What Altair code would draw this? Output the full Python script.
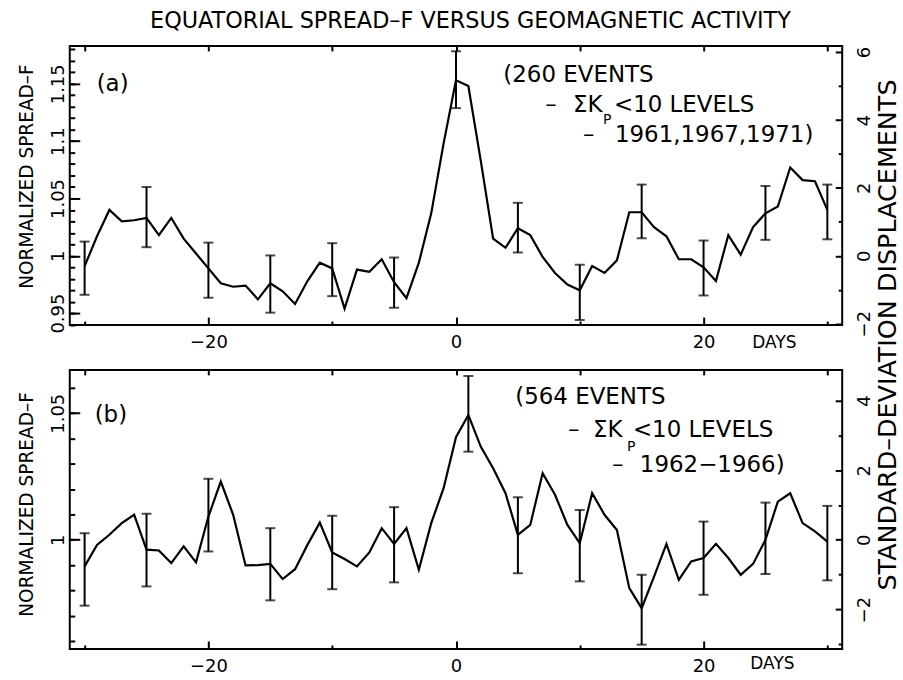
import altair as alt
import pandas as pd

FONT = "DejaVu Sans"

# ---------------- data ----------------
DAYS = list(range(-30, 31))

SPREAD_A = [0.991, 1.017, 1.040, 1.030, 1.031, 1.033, 1.018, 1.033, 1.015, 1.002,
            0.989, 0.976, 0.973, 0.974, 0.962, 0.976, 0.969, 0.958, 0.978, 0.994,
            0.989, 0.954, 0.988, 0.986, 0.997, 0.977, 0.963, 0.994, 1.037, 1.098,
            1.153, 1.148, 1.083, 1.015, 1.007, 1.024, 1.018, 0.999, 0.985, 0.975,
            0.970, 0.991, 0.985, 0.996, 1.038, 1.038, 1.025, 1.017, 0.997, 0.997,
            0.990, 0.978, 1.018, 1.001, 1.025, 1.037, 1.043, 1.077, 1.066, 1.065,
            1.040]

SPREAD_B = [0.9895, 0.998, 1.002, 1.0066, 1.0099, 0.9961, 0.9958, 0.9908, 0.9974, 0.9911,
            1.0092, 1.023, 1.0099, 0.9899, 0.990, 0.9905, 0.9845, 0.9884, 0.998, 1.0068,
            0.995, 0.9924, 0.9895, 0.995, 1.0046, 0.9984, 1.0046, 0.9882, 1.0066, 1.0204,
            1.0405, 1.0493, 1.0368, 1.0283, 1.0184, 1.002, 1.0059, 1.0263, 1.0178, 1.0059,
            0.9987, 1.0184, 1.0099, 1.0039, 0.9809, 0.973, 0.9855, 0.9984, 0.9842, 0.9915,
            0.9928, 0.9984, 0.9928, 0.9862, 0.9905, 1.0, 1.0151, 1.0184, 1.0066, 1.0033,
            0.9993]

ERR_DAYS_A = [-30, -25, -20, -15, -10, -5, 0, 5, 10, 15, 20, 25, 30]
ERR_LO_A = [0.966, 1.0075, 0.9634, 0.9504, 0.9648, 0.9547, 1.1288, 1.0029, 0.944, 1.0153, 0.9654, 1.0139, 1.0144]
ERR_HI_A = [1.0124, 1.060, 1.0115, 1.0003, 1.011, 0.9985, 1.1784, 1.0462, 0.9922, 1.0621, 1.0133, 1.0609, 1.0621]

ERR_DAYS_B = [-30, -25, -20, -15, -10, -5, 1, 5, 10, 15, 20, 25, 30]
ERR_LO_B = [0.974, 0.9816, 0.9954, 0.9761, 0.9805, 0.9832, 1.0348, 0.9868, 0.9836, 0.9586, 0.9783, 0.9865, 0.984]
ERR_HI_B = [1.0026, 1.0103, 1.0241, 1.0046, 1.0095, 1.0129, 1.0647, 1.0168, 1.0118, 0.9862, 1.0072, 1.0147, 1.0134]

X_DOMAIN = [-31.2, 31.2]
Y_DOMAIN_A = [0.9396, 1.183]
Y_DOMAIN_B = [0.9569, 1.0671]
SD_UNIT_A = 0.0296    # one standard deviation in normalized units, panel (a)
SD_UNIT_B = 0.01375   # panel (b)

X_MAJOR = [-20, 0, 20]
X_MINOR = [-30, -10, 10, 30]
X_TOP = [-30, -20, -10, 0, 10, 20, 30]
LEFT_MAJOR_A = [0.95, 1.0, 1.05, 1.1, 1.15]
LEFT_MINOR_A = [round(0.94 + 0.01 * i, 2) for i in range(25)]
LEFT_MAJOR_B = [1.0, 1.05]
LEFT_MINOR_B = [round(0.96 + 0.01 * i, 2) for i in range(11)]
RIGHT_MAJOR_A = [-2, 0, 2, 4, 6]
RIGHT_MINOR_A = [-1, 1, 3, 5]
RIGHT_MAJOR_B = [-2, 0, 2, 4]
RIGHT_MINOR_B = [-3, -1, 1, 3]

TITLE = "EQUATORIAL SPREAD–F VERSUS GEOMAGNETIC ACTIVITY"
LEFT_TITLE = "NORMALIZED SPREAD–F"
RIGHT_TITLE = "STANDARD–DEVIATION DISPLACEMENTS"
X_UNIT = "DAYS"

NOTES_A = [("(a)", 27, 38, 23), ("(260 EVENTS", 435, 29, 23),
           ("–", 477, 59, 23), ("ΣK", 505, 59, 23), ("P", 535, 74, 14), ("<10 LEVELS", 546, 59, 23),
           ("–", 515, 89, 23), ("1961,1967,1971)", 547, 89, 23)]
NOTES_B = [("(b)", 25, 45, 23), ("(564 EVENTS", 447, 27, 23),
           ("–", 500, 60, 23), ("ΣK", 525, 60, 23), ("P", 559, 77, 14), ("<10 LEVELS", 565, 60, 23),
           ("–", 544, 95, 23), ("1962−1966)", 572, 95, 23)]

W, H = 775, 280


def ax(**kw):
    base = dict(domain=False, grid=False, tickColor="black", tickWidth=2,
                labelFont=FONT, labelColor="black", labelFlush=False,
                labelOverlap=False, title=None)
    base.update(kw)
    return alt.Axis(**base)


def text_layer(txt, px, py, size, angle=0, align="left"):
    return alt.Chart(pd.DataFrame({"t": [txt]})).mark_text(
        font=FONT, fontSize=size, color="black", align=align, baseline="middle", angle=angle
    ).encode(x=alt.value(px), y=alt.value(py), text="t:N")


def panel(values, e_days, e_lo, e_hi, ydom, sd_unit, l_major, l_minor, r_major, r_minor,
          notes, left_title_y, days_xy, extra=()):
    df = pd.DataFrame({"day": DAYS, "val": values})
    df["sd"] = (df["val"] - 1.0) / sd_unit
    edf = pd.DataFrame({"day": e_days, "lo": e_lo, "hi": e_hi})
    xs = alt.Scale(domain=X_DOMAIN, nice=False, zero=False)
    ys = alt.Scale(domain=ydom, nice=False, zero=False)
    sds = alt.Scale(domain=[(ydom[0] - 1) / sd_unit, (ydom[1] - 1) / sd_unit], nice=False, zero=False)
    base = alt.Chart(df)

    line = base.mark_line(color="black", strokeWidth=2.2).encode(
        x=alt.X("day:Q", scale=xs, axis=ax(orient="bottom", values=X_MAJOR, tickSize=8, offset=-8,
                                          labelFontSize=18, labelPadding=9, format="d")),
        y=alt.Y("val:Q", scale=ys, axis=ax(orient="left", values=l_major, tickSize=10, offset=-10,
                                          labelFontSize=18, labelAngle=270, labelAlign="center",
                                          labelBaseline="alphabetic", labelPadding=6, format="~g")),
    )
    ghost_minor = base.mark_line(strokeOpacity=0).encode(
        x=alt.X("day:Q", scale=xs, axis=ax(orient="bottom", values=X_MINOR, tickSize=4, offset=-4, labels=False)),
        y=alt.Y("val:Q", scale=ys, axis=ax(orient="left", values=l_minor, tickSize=5, offset=-5, labels=False)),
    )
    ghost_right = base.mark_line(strokeOpacity=0).encode(
        x=alt.X("day:Q", scale=xs, axis=ax(orient="top", values=X_TOP, tickSize=5, offset=-5, labels=False)),
        y=alt.Y("sd:Q", scale=sds, axis=ax(orient="right", values=r_major, tickSize=7, offset=-7,
                                          labelFontSize=18, labelAngle=270, labelAlign="center",
                                          labelBaseline="top", labelPadding=13, format="d")),
    )
    ghost_right_minor = base.mark_line(strokeOpacity=0).encode(
        x=alt.X("day:Q", scale=xs, axis=None),
        y=alt.Y("sd:Q", scale=sds, axis=ax(orient="right", values=r_minor, tickSize=4, offset=-4, labels=False)),
    )
    ebase = alt.Chart(edf)
    bars = ebase.mark_rule(color="black", strokeWidth=2).encode(
        x=alt.X("day:Q", scale=xs, axis=None),
        y=alt.Y("lo:Q", scale=ys, axis=None),
        y2="hi:Q",
    )
    caps = ebase.transform_fold(["lo", "hi"], as_=["end", "v"]).mark_tick(
        color="black", orient="horizontal", size=10, thickness=2
    ).encode(
        x=alt.X("day:Q", scale=xs, axis=None),
        y=alt.Y("v:Q", scale=ys, axis=None),
    )
    layers = [line, ghost_minor, ghost_right, ghost_right_minor, bars, caps]
    for (t, px, py, sz) in notes:
        layers.append(text_layer(t, px, py, sz))
    layers.append(text_layer(LEFT_TITLE, -43, left_title_y, 18.6, angle=270, align="center"))
    layers.append(text_layer(X_UNIT, days_xy[0], days_xy[1], 17, align="center"))
    layers.extend(extra)
    return alt.layer(*layers).resolve_scale(y="independent").resolve_axis(
        x="independent", y="independent"
    ).properties(width=W, height=H)


panel_a = panel(SPREAD_A, ERR_DAYS_A, ERR_LO_A, ERR_HI_A, Y_DOMAIN_A, SD_UNIT_A,
                LEFT_MAJOR_A, LEFT_MINOR_A, RIGHT_MAJOR_A, RIGHT_MINOR_A, NOTES_A, 131, (707, 298),
                extra=[text_layer(TITLE, 402, -25, 22.4, align="center"),
                       text_layer(RIGHT_TITLE, 821, 290, 25.5, angle=270, align="center")])
panel_b = panel(SPREAD_B, ERR_DAYS_B, ERR_LO_B, ERR_HI_B, Y_DOMAIN_B, SD_UNIT_B,
                LEFT_MAJOR_B, LEFT_MINOR_B, RIGHT_MAJOR_B, RIGHT_MINOR_B, NOTES_B, 135, (705, 295))

chart = alt.vconcat(panel_a, panel_b, spacing=45, bounds="flush").configure_view(
    stroke="black", strokeWidth=2
).properties(
    padding={"left": 16, "top": 8, "right": 0, "bottom": 0}, background="white"
)

chart.save("out.html", embed_options={"renderer": "svg", "actions": False})
